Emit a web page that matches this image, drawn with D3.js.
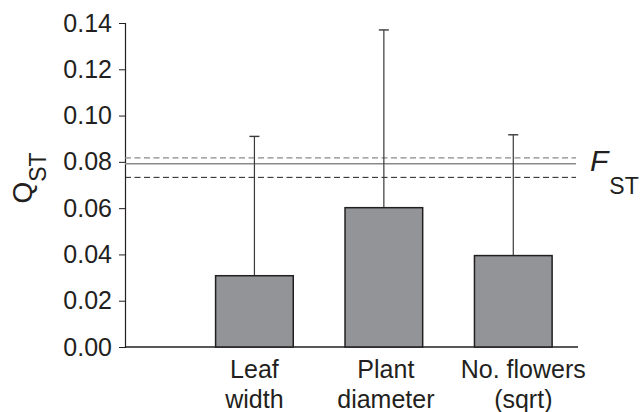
<!DOCTYPE html>
<html>
<head>
<meta charset="utf-8">
<script src="https://cdn.jsdelivr.net/npm/d3@7"></script>
<style>
  body { margin: 0; background: #fff; }
  text { font-family: "Liberation Sans", Arial, sans-serif; fill: #231f20; }
</style>
</head>
<body>
<div id="vis"></div>
<script>
// traits and their QST estimates (with upper bounds of the error bars)
var traits = [['Leaf', 'width'], ['Plant', 'diameter'], ['No. flowers', '(sqrt)']];
var qst = [0.0308, 0.0602, 0.0395];
var qstUpper = [0.0910, 0.1370, 0.0917];
var yTicks = [0, 0.02, 0.04, 0.06, 0.08, 0.10, 0.12, 0.14];
// FST estimate and its interval
var fst = 0.0792;
var fstLow = 0.0733;
var fstHigh = 0.0817;

var width = 642,
    height = 412,
    margin = { top: 23, left: 125, right: 64, bottom: 65 },
    drawWidth = width - margin.left - margin.right,
    drawHeight = height - margin.top - margin.bottom;

var svg = d3.select('#vis').append('svg')
    .attr('width', width)
    .attr('height', height);

var g = svg.append('g')
    .attr('transform', 'translate(' + margin.left + ',' + margin.top + ')');

var names = traits.map(function(d) { return d.join(' '); });

// one empty slot on the left, so the three bars sit in the last three slots
var step = drawWidth / 3.5;
var xScale = d3.scaleBand()
    .domain(names)
    .range([step * 0.5, step * 3.5])
    .paddingInner(0.4)
    .paddingOuter(0.2);

var yScale = d3.scaleLinear()
    .domain([0, 0.14])
    .range([drawHeight, 0]);

// y axis
var yAxis = d3.axisLeft(yScale)
    .tickValues(yTicks)
    .tickFormat(d3.format('.2f'))
    .tickSize(6)
    .tickPadding(7);

var yAxisG = g.append('g').call(yAxis);
yAxisG.select('.domain').attr('stroke', '#231f20').attr('stroke-width', 1.2);
yAxisG.selectAll('.tick line').attr('stroke', '#231f20');
yAxisG.selectAll('.tick text')
    .style('font-size', '25px')
    .attr('fill', '#231f20')
    .style('font-family', '"Liberation Sans", Arial, sans-serif');

// x axis baseline
g.append('line')
    .attr('x1', 0).attr('x2', drawWidth)
    .attr('y1', yScale(0)).attr('y2', yScale(0))
    .attr('stroke', '#231f20')
    .attr('stroke-width', 1.4);

// FST lines
g.append('line')
    .attr('x1', 0).attr('x2', drawWidth - 2)
    .attr('y1', yScale(fstHigh)).attr('y2', yScale(fstHigh))
    .attr('stroke', '#8a8a8c').attr('stroke-width', 1.2)
    .attr('stroke-dasharray', '6,3.5');
g.append('line')
    .attr('x1', 0).attr('x2', drawWidth - 2)
    .attr('y1', yScale(fst)).attr('y2', yScale(fst))
    .attr('stroke', '#8a8a8c').attr('stroke-width', 1.4);
g.append('line')
    .attr('x1', 0).attr('x2', drawWidth - 2)
    .attr('y1', yScale(fstLow)).attr('y2', yScale(fstLow))
    .attr('stroke', '#231f20').attr('stroke-width', 1)
    .attr('stroke-dasharray', '6,3.5');

// error bars (upper only)
var errs = g.selectAll('.err').data(names).enter().append('g').attr('class', 'err');
errs.append('line')
    .attr('x1', function(d) { return xScale(d) + xScale.bandwidth() / 2; })
    .attr('x2', function(d) { return xScale(d) + xScale.bandwidth() / 2; })
    .attr('y1', function(d, i) { return yScale(qst[i]); })
    .attr('y2', function(d, i) { return yScale(qstUpper[i]); })
    .attr('stroke', '#3a3a3c').attr('stroke-width', 1.2);
errs.append('line')
    .attr('x1', function(d) { return xScale(d) + xScale.bandwidth() / 2 - 5; })
    .attr('x2', function(d) { return xScale(d) + xScale.bandwidth() / 2 + 5; })
    .attr('y1', function(d, i) { return yScale(qstUpper[i]); })
    .attr('y2', function(d, i) { return yScale(qstUpper[i]); })
    .attr('stroke', '#3a3a3c').attr('stroke-width', 1.4);

// bars
g.selectAll('.bar').data(names).enter().append('rect')
    .attr('class', 'bar')
    .attr('x', function(d) { return xScale(d); })
    .attr('y', function(d, i) { return yScale(qst[i]); })
    .attr('width', xScale.bandwidth())
    .attr('height', function(d, i) { return drawHeight - yScale(qst[i]); })
    .attr('fill', '#929497')
    .attr('stroke', '#231f20')
    .attr('stroke-width', 1.5);

// x labels, two lines each (the last one sits a bit to the right in the original)
var labelNudge = [0, 2, 10];
var labels = g.selectAll('.xlab').data(traits).enter().append('text')
    .attr('class', 'xlab')
    .attr('text-anchor', 'middle')
    .style('font-size', '25px')
    .attr('transform', function(d, i) {
        var cx = xScale(names[i]) + xScale.bandwidth() / 2 + labelNudge[i];
        return 'translate(' + cx + ',' + (drawHeight + 31) + ')';
    });
labels.selectAll('tspan').data(function(d) { return d; }).enter().append('tspan')
    .attr('x', 0)
    .attr('dy', function(d, i) { return i === 0 ? 0 : 30; })
    .text(function(d) { return d; });

// y axis title Q_ST
var yTitle = svg.append('text')
    .attr('transform', 'translate(32,178) rotate(-90)')
    .attr('text-anchor', 'middle')
    .style('font-size', '28px');
yTitle.append('tspan').text('Q');
yTitle.append('tspan').attr('dy', 14).style('font-size', '23px').text('ST');

// FST label
var fLabel = svg.append('text')
    .attr('x', 590)
    .attr('y', 171)
    .style('font-size', '30px');
fLabel.append('tspan').style('font-style', 'italic').text('F');
fLabel.append('tspan').attr('dy', 23).attr('dx', 1).style('font-size', '23px').text('ST');
</script>
</body>
</html>
